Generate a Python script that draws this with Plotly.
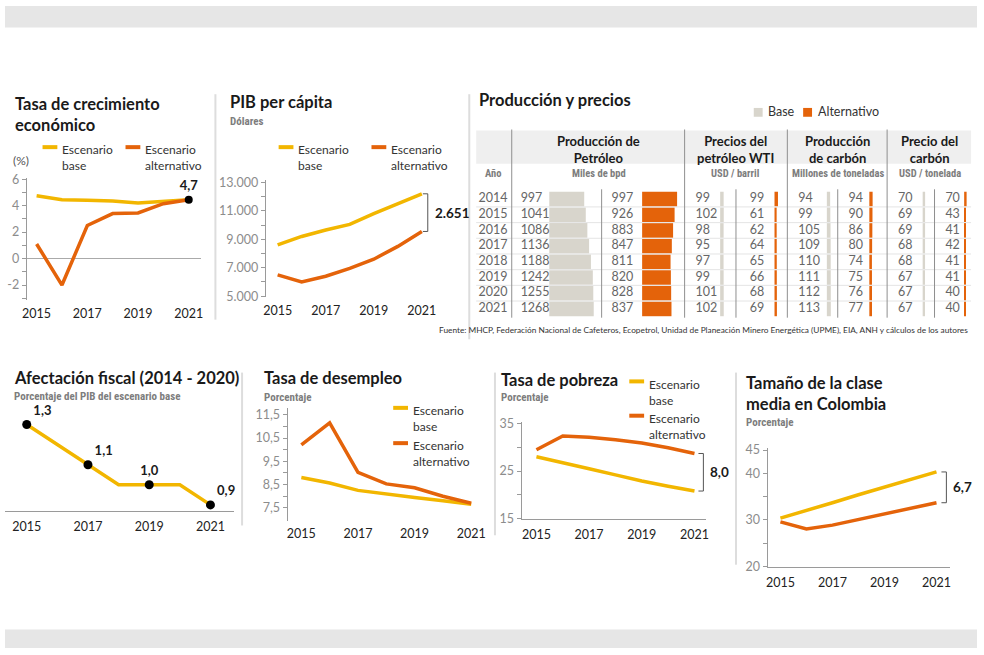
import plotly.graph_objects as go

# ---- datos -------------------------------------------------------------
anios = [2015, 2016, 2017, 2018, 2019, 2020, 2021]
anios_etiqueta = [2015, 2017, 2019, 2021]

crec_base = [4.75, 4.45, 4.4, 4.35, 4.2, 4.35, 4.45]
crec_alt = [1.1, -2.0, 2.5, 3.4, 3.45, 4.15, 4.45]
crec_etiqueta = '4,7'

pib_base = [8600, 9200, 9650, 10050, 10800, 11500, 12200]
pib_alt = [6500, 6000, 6400, 6950, 7600, 8500, 9550]
pib_brecha = '2.651'

fiscal = [1.3, 1.2, 1.1, 1.0, 1.0, 1.0, 0.9]

desempleo_base = [8.8, 8.57, 8.25, 8.08, 7.94, 7.8, 7.65]
desempleo_alt = [10.2, 11.15, 9.02, 8.53, 8.36, 8.0, 7.7]

pobreza_base = [28.0, 26.8, 25.5, 24.2, 22.9, 21.8, 20.8]
pobreza_alt = [29.5, 32.4, 32.1, 31.6, 30.9, 29.9, 28.7]
pobreza_brecha = '8,0'

clase_base = [30.4, 32.0, 33.7, 35.4, 37.0, 38.7, 40.3]
clase_alt = [29.6, 28.1, 28.9, 30.1, 31.3, 32.5, 33.7]
clase_brecha = '6,7'

tabla_anios = [2014, 2015, 2016, 2017, 2018, 2019, 2020, 2021]
petroleo_base = [997, 1041, 1086, 1136, 1188, 1242, 1255, 1268]
petroleo_alt = [997, 926, 883, 847, 811, 820, 828, 837]
wti_base = [99, 102, 98, 95, 97, 99, 101, 102]
wti_alt = [99, 61, 62, 64, 65, 66, 68, 69]
carbon_base = [94, 99, 105, 109, 110, 111, 112, 113]
carbon_alt = [94, 90, 86, 80, 74, 75, 76, 77]
pcarbon_base = [70, 69, 69, 68, 68, 67, 67, 67]
pcarbon_alt = [70, 43, 41, 42, 41, 41, 40, 40]

fuente = ('Fuente: MHCP, Federación Nacional de Cafeteros, Ecopetrol, Unidad de Planeación '
          'Minero Energética (UPME), EIA, ANH y cálculos de los autores')

# ---- estilo ------------------------------------------------------------
W, H = 984, 655
BASE_C = '#F2B600'
ALT_C = '#E4630A'
GRIS_BARRA = '#D8D5CC'
SEP_C = '#DDDDDD'
TXT = '#1A1A1A'
TICK_C = '#8C8C8C'
SUB_C = '#7D7D7D'
FONT = 'Lato, Roboto, sans-serif'
NARROW = '"Liberation Sans Narrow", "Roboto Condensed", Roboto, sans-serif'
LW = 3.5
TIT = 16.5


def dom_x(a, b):
    return [a / W, b / W]


def dom_y(top, bottom):
    return [1 - bottom / H, 1 - top / H]


def xr(x0, p0, x1, p1, left, right):
    # rango de eje x para que el año x0 caiga en el pixel p0 y x1 en p1
    k = (x1 - x0) / (p1 - p0)
    return [x0 - (p0 - left) * k, x1 + (right - p1) * k]


def yr(v0, p0, v1, p1, top, bottom):
    k = (v1 - v0) / (p0 - p1)
    return [v0 - (bottom - p0) * k, v1 + (p1 - top) * k]


annotations = []
shapes = []


def txt(x, y, s, size=12, color=TXT, weight='normal', anchor='left', family=FONT, yanchor='middle'):
    annotations.append(dict(x=x / W, y=1 - y / H, xref='paper', yref='paper', text=s,
                            showarrow=False, xanchor=anchor, yanchor=yanchor, align=anchor,
                            font=dict(size=size, color=color, family=family, weight=weight)))


def linea(x0, y0, x1, y1, color=SEP_C, width=1.5):
    shapes.append(dict(type='line', xref='paper', yref='paper', x0=x0 / W, y0=1 - y0 / H,
                       x1=x1 / W, y1=1 - y1 / H, line=dict(color=color, width=width)))


def leyenda(x, y, color, palabra):
    linea(x, y, x + 15, y, color, 4)
    txt(x + 18, y - 7, 'Escenario<br>' + palabra, 12, '#333', yanchor='top')


fig = go.Figure()


def series(n, base, alt):
    ax = '' if n == 1 else str(n)
    fig.add_trace(go.Scatter(x=anios, y=base, mode='lines', line=dict(color=BASE_C, width=LW),
                             xaxis='x' + ax, yaxis='y' + ax, hoverinfo='skip'))
    fig.add_trace(go.Scatter(x=anios, y=alt, mode='lines', line=dict(color=ALT_C, width=LW),
                             xaxis='x' + ax, yaxis='y' + ax, hoverinfo='skip'))


def eje_x(left, right, p15, p21, anchor, bottom_line=False):
    return dict(domain=dom_x(left, right), range=xr(2015, p15, 2021, p21, left, right),
                tickvals=anios_etiqueta, showgrid=False, zeroline=False,
                showline=bottom_line, linecolor='#9A9A9A', linewidth=1, ticks='',
                tickfont=dict(size=12.5, color='#222', family=FONT), ticklabelstandoff=4,
                fixedrange=True, anchor=anchor)


def eje_y(top, bottom, rng, vals, labels, anchor):
    return dict(domain=dom_y(top, bottom), range=rng, tickvals=vals, ticktext=labels,
                showgrid=False, zeroline=False, showline=True, linecolor='#9A9A9A', linewidth=1,
                ticks='outside', ticklen=4, tickcolor='#9A9A9A',
                tickfont=dict(size=12.5, color=TICK_C, family=FONT), fixedrange=True,
                anchor=anchor)


layout = {}

# ---- 1. Tasa de crecimiento económico ---------------------------------
series(1, crec_base, crec_alt)
fig.add_trace(go.Scatter(x=[anios[-1]], y=[crec_alt[-1]], mode='markers+text', text=[crec_etiqueta],
                         textposition='top center', marker=dict(color='black', size=8),
                         textfont=dict(size=13, color=TXT, family=FONT, weight='bold'),
                         xaxis='x', yaxis='y', hoverinfo='skip', cliponaxis=False))
layout['xaxis'] = eje_x(22, 198, 32, 186, 'y')
vals1 = list(range(-3, 7))
layout['yaxis'] = eje_y(175, 300, yr(-2, 284.7, 6, 176.7, 175, 300), vals1,
                        [str(v) if v % 2 == 0 else '' for v in vals1], 'x')
layout['yaxis'].update(zeroline=True, zerolinecolor='#AAAAAA', zerolinewidth=1)
txt(8, 88, 'Tasa de crecimiento<br>económico', TIT, weight='bold', yanchor='top')
leyenda(38, 144, BASE_C, 'base')
leyenda(122, 144, ALT_C, 'alternativo')
txt(6, 158, '(%)', 12, '#555')

# ---- 2. PIB per cápita ---------------------------------------------------
series(2, pib_base, pib_alt)
layout['xaxis2'] = eje_x(264, 432, 276, 422, 'y2')
vals2 = list(range(5000, 13001, 1000))
layout['yaxis2'] = eje_y(178, 297, yr(5000, 296, 13000, 180, 178, 297), vals2,
                         [f'{v:,}'.replace(',', '.') if v % 2000 == 1000 else '' for v in vals2], 'x2')
txt(226, 98, 'PIB per cápita', TIT, weight='bold')
txt(226, 118, 'Dólares', 11, SUB_C, 'bold', family=NARROW)
leyenda(277, 144, BASE_C, 'base')
leyenda(371, 144, ALT_C, 'alternativo')

# ---- 3. Afectación fiscal -------------------------------------------------
fig.add_trace(go.Scatter(x=anios, y=fiscal, mode='lines', line=dict(color=BASE_C, width=LW),
                         xaxis='x3', yaxis='y3', hoverinfo='skip'))
fis_x = [a for a in anios if a in anios_etiqueta]
fis_y = [v for a, v in zip(anios, fiscal) if a in anios_etiqueta]
fig.add_trace(go.Scatter(x=fis_x, y=fis_y, mode='markers+text',
                         text=[f'{v:.1f}'.replace('.', ',') for v in fis_y],
                         textposition=['top right', 'top right', 'top center', 'top right'],
                         marker=dict(color='black', size=9),
                         textfont=dict(size=13, color=TXT, family=FONT, weight='bold'),
                         xaxis='x3', yaxis='y3', hoverinfo='skip', cliponaxis=False))
layout['xaxis3'] = eje_x(0, 232, 22, 208, 'y3', bottom_line=True)
layout['yaxis3'] = dict(domain=dom_y(415, 515), range=yr(0.9, 509, 1.3, 427, 415, 515),
                        visible=False, anchor='x3', fixedrange=True)
txt(7, 380, 'Afectación fiscal (2014 - 2020)', TIT, weight='bold')
txt(7, 398, 'Porcentaje del PIB del escenario base', 11, SUB_C, 'bold', family=NARROW)

# ---- 4. Tasa de desempleo -------------------------------------------------
series(4, desempleo_base, desempleo_alt)
layout['xaxis4'] = eje_x(286, 480, 300, 472, 'y4')
vals4 = [7.5, 8, 8.5, 9, 9.5, 10, 10.5, 11, 11.5]
layout['yaxis4'] = eje_y(410, 525, yr(7.5, 512, 11.5, 417, 410, 525), vals4,
                         [f'{v:.1f}'.replace('.', ',') if v % 1 else '' for v in vals4], 'x4')
txt(260, 380, 'Tasa de desempleo', TIT, weight='bold')
txt(260, 399, 'Porcentaje', 11, SUB_C, 'bold', family=NARROW)
leyenda(393, 410, BASE_C, 'base')
leyenda(393, 446, ALT_C, 'alternativo')

# ---- 5. Tasa de pobreza ---------------------------------------------------
series(5, pobreza_base, pobreza_alt)
layout['xaxis5'] = eje_x(523, 710, 538, 698, 'y5', bottom_line=True)
vals5 = [15, 20, 25, 30, 35]
layout['yaxis5'] = eje_y(424, 523, yr(15, 523, 35, 426, 424, 523), vals5,
                         [str(v) if v % 10 == 5 else '' for v in vals5], 'x5')
txt(500, 382, 'Tasa de pobreza', TIT, weight='bold')
txt(500, 399, 'Porcentaje', 11, SUB_C, 'bold', family=NARROW)
leyenda(632, 383, BASE_C, 'base')
leyenda(632, 418, ALT_C, 'alternativo')

# ---- 6. Tamaño de la clase media ------------------------------------------
series(6, clase_base, clase_alt)
layout['xaxis6'] = eje_x(772, 957, 785, 943, 'y6', bottom_line=True)
vals6 = [20, 25, 30, 35, 40, 45]
layout['yaxis6'] = eje_y(451, 572, yr(20, 572, 45, 453, 451, 572), vals6,
                         [str(v) if v in (20, 30, 40, 45) else '' for v in vals6], 'x6')
txt(748, 372, 'Tamaño de la clase<br>media en Colombia', TIT, weight='bold', yanchor='top')
txt(748, 425, 'Porcentaje', 11, SUB_C, 'bold', family=NARROW)


# ---- corchetes de brecha ---------------------------------------------------
def corchete(ax, xpx, v_top, v_bot, label):
    x1 = xpx / W
    x0 = (xpx - 5) / W
    shapes.append(dict(type='path', xref='paper', yref=ax,
                       path=f'M {x0},{v_top} L {x1},{v_top} L {x1},{v_bot} L {x0},{v_bot}',
                       line=dict(color='#555', width=1)))
    annotations.append(dict(x=(xpx + 5) / W, y=(v_top + v_bot) / 2, xref='paper', yref=ax,
                            text=label, showarrow=False, xanchor='left', yanchor='middle',
                            font=dict(size=13.5, color=TXT, family=FONT, weight='bold')))


corchete('y2', 428, pib_base[-1], pib_alt[-1], pib_brecha)
corchete('y5', 707, pobreza_alt[-1], pobreza_base[-1], pobreza_brecha)
corchete('y6', 953, clase_base[-1], clase_alt[-1], clase_brecha)

# ---- tabla: Producción y precios -------------------------------------------
fila_y = [197 + 16 * i for i in range(len(tabla_anios))]
ESC = 45 / 1268  # pixeles por unidad, misma escala para todas las barras

columnas = [
    # (valores, color, inicio del número, inicio de la barra)
    (petroleo_base, GRIS_BARRA, 522, 551),
    (petroleo_alt, ALT_C, 614, 645),
    (wti_base, GRIS_BARRA, 699, 724),
    (wti_alt, ALT_C, 754, 779),
    (carbon_base, GRIS_BARRA, 803, 832),
    (carbon_alt, ALT_C, 854, 875),
    (pcarbon_base, GRIS_BARRA, 904, 929),
    (pcarbon_alt, ALT_C, 952, 971),
]
for vals, color, x_num, x_bar in columnas:
    fig.add_trace(go.Bar(y=fila_y, x=[v * ESC for v in vals], base=x_bar, orientation='h',
                         width=15, marker=dict(color=color, line=dict(width=0)),
                         xaxis='x7', yaxis='y7', hoverinfo='skip'))
    fig.add_trace(go.Scatter(y=fila_y, x=[x_num] * len(vals), mode='text',
                             text=[str(v) for v in vals], textposition='middle right',
                             textfont=dict(size=12.5, color='#666', family=FONT),
                             xaxis='x7', yaxis='y7', hoverinfo='skip'))
fig.add_trace(go.Scatter(y=fila_y, x=[494] * len(tabla_anios), mode='text',
                         text=[str(a) for a in tabla_anios], textposition='middle center',
                         textfont=dict(size=12.5, color='#666', family=FONT),
                         xaxis='x7', yaxis='y7', hoverinfo='skip'))

layout['xaxis7'] = dict(domain=[0, 1], range=[0, W], visible=False, fixedrange=True, anchor='y7')
layout['yaxis7'] = dict(domain=[0, 1], range=[H, 0], visible=False, fixedrange=True, anchor='x7')

# fondo del encabezado
shapes.append(dict(type='rect', xref='paper', yref='paper', x0=477 / W, x1=978 / W,
                   y0=1 - 161 / H, y1=1 - 127 / H, fillcolor='#EFEFEF', line=dict(width=0),
                   layer='below'))
# separadores de filas
for y in fila_y[:-1]:
    linea(477, y + 8, 978, y + 8, '#E4E4E4', 1)
# líneas verticales de la tabla
for x in (513, 688, 792, 893):
    linea(x, 126, x, 318, '#8F8F8F', 1)
for x in (604, 740, 843, 941):
    linea(x, 187, x, 318, '#8F8F8F', 1)

txt(478, 96, 'Producción y precios', TIT, weight='bold')
shapes.append(dict(type='rect', xref='paper', yref='paper', x0=758 / W, x1=767 / W,
                   y0=1 - 113 / H, y1=1 - 104 / H, fillcolor=GRIS_BARRA, line=dict(width=0)))
txt(770, 108, 'Base', 12.5, '#333')
shapes.append(dict(type='rect', xref='paper', yref='paper', x0=808 / W, x1=817 / W,
                   y0=1 - 113 / H, y1=1 - 104 / H, fillcolor=ALT_C, line=dict(width=0)))
txt(821, 108, 'Alternativo', 12.5, '#333')

for cx, cab, unidad in [(601, 'Producción de<br>Petróleo', 'Miles de bpd'),
                        (740, 'Precios del<br>petróleo WTI', 'USD / barril'),
                        (843, 'Producción<br>de carbón', 'Millones de toneladas'),
                        (936, 'Precio del<br>carbón', 'USD / tonelada')]:
    txt(cx, 146, cab, 13, weight='bold', anchor='center')
    txt(cx, 171, unidad, 10.5, SUB_C, 'bold', anchor='center', family=NARROW)
txt(494, 171, 'Año', 10.5, SUB_C, 'bold', anchor='center', family=NARROW)
txt(977, 331, fuente, 8.3, '#333', anchor='right')

# ---- franjas y separadores -------------------------------------------------
shapes.append(dict(type='rect', xref='paper', yref='paper', x0=0, x1=1, y0=1 - 22 / H, y1=1,
                   fillcolor='#E6E6E6', line=dict(width=0)))
shapes.append(dict(type='rect', xref='paper', yref='paper', x0=0, x1=1, y0=0, y1=1 - 636 / H,
                   fillcolor='#E6E6E6', line=dict(width=0)))
linea(213, 90, 213, 320, SEP_C, 2)
linea(470, 90, 470, 340, SEP_C, 2)
linea(240, 374, 240, 530, SEP_C, 2)
linea(496, 374, 496, 540, SEP_C, 2)
linea(740, 374, 740, 570, SEP_C, 2)

layout.update(dict(width=W, height=H, margin=dict(l=0, r=0, t=0, b=0),
                   paper_bgcolor='white', plot_bgcolor='rgba(0,0,0,0)', showlegend=False,
                   barmode='overlay', annotations=annotations, shapes=shapes,
                   font=dict(family=FONT)))
fig.update_layout(**layout)

fig.write_html('out.html', config=dict(displayModeBar=False),
               post_script="document.body.style.margin='0';document.body.style.overflow='hidden';")
